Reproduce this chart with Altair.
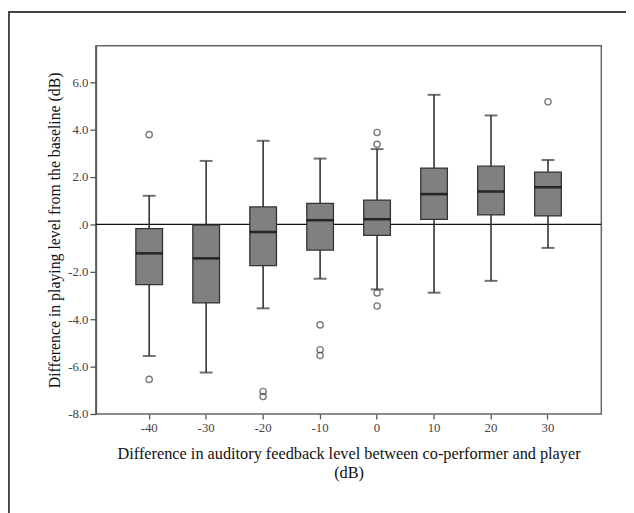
import altair as alt
import pandas as pd

levels = ["-40", "-30", "-20", "-10", "0", "10", "20", "30"]
lower_whisker = [-5.55, -6.25, -3.54, -2.29, -2.74, -2.88, -2.38, -0.99]
q1 = [-2.54, -3.31, -1.74, -1.08, -0.46, 0.21, 0.40, 0.36]
median = [-1.22, -1.43, -0.32, 0.18, 0.22, 1.28, 1.39, 1.57]
q3 = [-0.18, -0.03, 0.74, 0.89, 1.03, 2.38, 2.46, 2.21]
upper_whisker = [1.21, 2.68, 3.53, 2.78, 3.18, 5.47, 4.60, 2.72]

outlier_levels = ["-40", "-40", "-20", "-20", "-10", "-10", "-10", "0", "0", "0", "0", "30"]
outlier_values = [3.79, -6.54, -7.05, -7.26, -4.24, -5.29, -5.53, 3.88, 3.38, -2.89, -3.44, 5.18]

y_ticks = [-8, -6, -4, -2, 0, 2, 4, 6]

stats = pd.DataFrame({
    "level": levels, "lo": lower_whisker, "q1": q1,
    "med": median, "q3": q3, "hi": upper_whisker,
})
outs = pd.DataFrame({"level": outlier_levels, "v": outlier_values})

FONT = "Liberation Serif"

xenc = alt.X(
    "level:N", sort=levels,
    scale=alt.Scale(paddingInner=0.5, paddingOuter=0.686),
    axis=alt.Axis(
        title=["Difference in auditory feedback level between co-performer and player", "(dB)"],
        labelAngle=0, tickSize=5, labelPadding=3, titlePadding=11,
        titleFontSize=16.5, titleLineHeight=19,
        domain=False,
    ),
)
yscale = alt.Scale(domain=[-8, 7.54], nice=False, zero=False)
yaxis = alt.Axis(
    title="Difference in playing level from the baseline (dB)",
    values=y_ticks, tickSize=6, labelPadding=2, titlePadding=5, grid=False,
    titleFontSize=16,
    labelExpr="datum.value == 0 ? '.0' : (datum.value < 0 ? '-' : '') + format(abs(datum.value), '.1f')",
)

base = alt.Chart(stats)

frame = base.mark_rect(fill="transparent", stroke="#444", strokeWidth=1.5).encode(
    x=alt.value(-88.5), x2=alt.value(700), y=alt.value(-34.5), y2=alt.value(700)
)

whisker = base.mark_rule(color="#333", strokeWidth=1.6).encode(
    x=xenc,
    y=alt.Y("lo:Q", scale=yscale, axis=yaxis),
    y2="hi:Q",
)

caps_lo = base.mark_tick(color="#333", size=13, thickness=2).encode(
    x=xenc, y=alt.Y("lo:Q", scale=yscale, axis=yaxis)
)
caps_hi = base.mark_tick(color="#333", size=13, thickness=2).encode(
    x=xenc, y=alt.Y("hi:Q", scale=yscale, axis=yaxis)
)

box = base.mark_bar(size=27, color="#808080", stroke="#333", strokeWidth=1.3).encode(
    x=xenc, y=alt.Y("q1:Q", scale=yscale, axis=yaxis), y2="q3:Q"
)

med = base.mark_tick(color="#000", size=27, thickness=2.6).encode(
    x=xenc, y=alt.Y("med:Q", scale=yscale, axis=yaxis)
)

zero = alt.Chart(pd.DataFrame({"z": [0]})).mark_rule(color="#111", strokeWidth=1.2).encode(
    y=alt.Y("z:Q", scale=yscale, axis=yaxis)
)

pts = alt.Chart(outs).mark_point(
    shape="circle", filled=False, size=40, color="#444", strokeWidth=1.4
).encode(x=xenc, y=alt.Y("v:Q", scale=yscale, axis=yaxis))

chart = alt.layer(frame, zero, whisker, caps_lo, caps_hi, box, med, pts).properties(
    width=512, height=373,
    padding={"left": 89, "top": 35, "right": 25, "bottom": 97},
    autosize=alt.AutoSizeParams(type="none"),
    background="white",
).configure_view(
    stroke="#666", strokeWidth=1.5
).configure_axis(
    labelFont=FONT, titleFont=FONT, labelFontSize=13, titleFontSize=15,
    labelColor="#444", titleColor="#111", titleFontWeight="normal",
    domainColor="#555", tickColor="#555", domainWidth=1.5, tickWidth=1.3,
)

chart.save("out.html", embed_options={"renderer": "svg", "actions": False})
